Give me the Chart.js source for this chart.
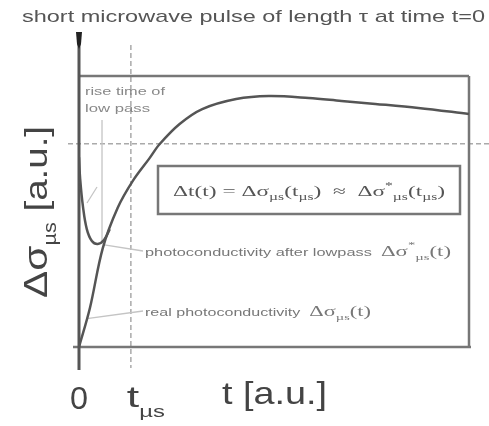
<!DOCTYPE html>
<html>
<head>
<meta charset="utf-8">
<script src="https://cdn.jsdelivr.net/npm/chart.js@4"></script>
<style>
  html, body { margin: 0; padding: 0; background: #fff; }
  #wrap { width: 489px; height: 426px; position: relative; }
</style>
</head>
<body>
<div id="wrap"><canvas id="chart"></canvas></div>
<script>
// time axis (a.u.) and signals
const realT      = [0, 0.28, 0.61, 0.99, 1.38, 1.81, 2.07, 2.58, 3.16, 4.03, 4.87, 5.89, 6.73, 7.60, 8.70, 10];
const realSigma  = [0, 1.44, 3.65, 5.13, 6.13, 6.97, 7.49, 8.23, 8.78, 9.15, 9.26, 9.19, 9.08, 8.97, 8.82, 8.60];
const lowT       = [0, 0.03, 0.10, 0.20, 0.33, 0.48, 0.64, 0.79];
const lowSigma   = [7.0, 6.2, 5.2, 4.35, 3.91, 3.80, 3.95, 4.35];

// reference marks
const tMus = 1.33;          // t_µs
const riseTime = 0.59;      // rise time of low pass
const levelAtTmus = 7.5;    // dashed level
const realLeader = [0.2, 1.05];
const lowLeader = [0.61, 3.78];

const toPts = (xs, ys) => xs.map((x, i) => ({ x: x, y: ys[i] }));

// draw a list of text pieces, squeezed/stretched to a target width
function drawRich(ctx, segs, x, y, width, align) {
  let total = 0;
  segs.forEach(s => { ctx.font = s.font; s.w = ctx.measureText(s.text).width; total += s.w; });
  const k = width ? width / total : 1;
  const w = total * k;
  let x0 = x;
  if (align === 'center') x0 = x - w / 2;
  if (align === 'right') x0 = x - w;
  ctx.save();
  ctx.translate(x0, y);
  ctx.scale(k, 1);
  ctx.textBaseline = 'alphabetic';
  ctx.textAlign = 'left';
  let cx = 0;
  segs.forEach(s => {
    ctx.font = s.font;
    ctx.fillText(s.text, cx, s.dy || 0);
    cx += s.w;
  });
  ctx.restore();
}

function line(ctx, x1, y1, x2, y2) {
  ctx.beginPath();
  ctx.moveTo(x1, y1);
  ctx.lineTo(x2, y2);
  ctx.stroke();
}

const sketchPlugin = {
  id: 'sketch',
  beforeDatasetsDraw(chart) {
    const { ctx, chartArea: a, scales: { x, y } } = chart;
    ctx.save();
    // dashed guides
    ctx.strokeStyle = '#aaa';
    ctx.lineWidth = 1.5;
    ctx.setLineDash([5, 3]);
    const yl = y.getPixelForValue(levelAtTmus);
    line(ctx, a.left - 11, yl, 489, yl);
    const xt = x.getPixelForValue(tMus);
    line(ctx, xt, 45, xt, a.bottom + 21);
    ctx.setLineDash([]);

    // rise time marker and leaders
    ctx.strokeStyle = '#c4c4c4';
    ctx.lineWidth = 1.3;
    const xr = x.getPixelForValue(riseTime);
    line(ctx, xr, 120, xr, y.getPixelForValue(3.8));
    line(ctx, 87, 203, 97, 187);
    line(ctx, x.getPixelForValue(lowLeader[0]), y.getPixelForValue(lowLeader[1]), 143, 251);
    line(ctx, x.getPixelForValue(realLeader[0]), y.getPixelForValue(realLeader[1]), 143, 311);

    // frame
    ctx.strokeStyle = '#777';
    ctx.lineWidth = 2.5;
    line(ctx, a.left, a.top, a.right, a.top);
    line(ctx, a.right, a.top, a.right, a.bottom);
    line(ctx, a.left - 6, a.bottom, a.right + 2, a.bottom);
    ctx.strokeStyle = '#555';
    ctx.lineWidth = 3;
    line(ctx, a.left, 38, a.left, a.bottom + 23);

    // pulse arrow
    ctx.fillStyle = '#222';
    ctx.beginPath();
    ctx.moveTo(a.left - 3, 32);
    ctx.lineTo(a.left + 3, 32);
    ctx.lineTo(a.left + 2, 44);
    ctx.lineTo(a.left, 49);
    ctx.lineTo(a.left - 2, 44);
    ctx.closePath();
    ctx.fill();

    // equation box
    ctx.strokeStyle = '#777';
    ctx.lineWidth = 2.5;
    ctx.strokeRect(158, 166, 302, 48);
    ctx.restore();
  },
  afterDraw(chart) {
    const { ctx, scales: { x } } = chart;
    ctx.save();
    const sans = 'Liberation Sans, Arial, sans-serif';
    const serif = 'Liberation Serif, Times New Roman, serif';

    // title
    ctx.fillStyle = '#555';
    drawRich(ctx, [{ text: 'short microwave pulse of length \u03c4 at time t=0', font: '17px ' + sans }], 22, 22, 463, 'left');

    // rise time label
    ctx.fillStyle = '#888';
    drawRich(ctx, [{ text: 'rise time of', font: '11px ' + sans }], 85, 95, 80, 'left');
    drawRich(ctx, [{ text: 'low pass', font: '11px ' + sans }], 85, 112, 65, 'left');

    // equation
    ctx.fillStyle = '#555';
    const f14 = '15px ' + serif, f9 = '10px ' + serif;
    drawRich(ctx, [
      { text: '\u0394t(t) = \u0394\u03c3', font: f14 },
      { text: '\u00b5s', font: f9, dy: 4 },
      { text: '(t', font: f14 },
      { text: '\u00b5s', font: f9, dy: 4 },
      { text: ')  \u2248  \u0394\u03c3', font: f14 },
      { text: '*', font: f9, dy: -7 },
      { text: '\u00b5s', font: f9, dy: 4 },
      { text: '(t', font: f14 },
      { text: '\u00b5s', font: f9, dy: 4 },
      { text: ')', font: f14 }
    ], 309, 196, 272, 'center');

    // curve labels
    ctx.fillStyle = '#777';
    drawRich(ctx, [
      { text: 'photoconductivity after lowpass  ', font: '10px ' + sans },
      { text: '\u0394\u03c3', font: '14px ' + serif },
      { text: '*', font: '9px ' + serif, dy: -8 },
      { text: '\u00b5s', font: '9px ' + serif, dy: 4 },
      { text: '(t)', font: '14px ' + serif }
    ], 145, 256, 306, 'left');
    drawRich(ctx, [
      { text: 'real photoconductivity  ', font: '10px ' + sans },
      { text: '\u0394\u03c3', font: '14px ' + serif },
      { text: '\u00b5s', font: '9px ' + serif, dy: 4 },
      { text: '(t)', font: '14px ' + serif }
    ], 145, 316, 226, 'left');

    // axis labels
    ctx.fillStyle = '#444';
    drawRich(ctx, [{ text: '0', font: '32px ' + sans }], x.getPixelForValue(0), 409, 18, 'center');
    drawRich(ctx, [
      { text: 't', font: '30px ' + sans },
      { text: '\u00b5s', font: '16px ' + sans, dy: 10 }
    ], x.getPixelForValue(tMus) - 4, 407, 38, 'left');
    drawRich(ctx, [{ text: 't [a.u.]', font: '32px ' + sans }], 222, 404, 105, 'left');

    ctx.translate(47, 212);
    ctx.rotate(-Math.PI / 2);
    drawRich(ctx, [
      { text: '\u0394\u03c3', font: '34px ' + sans },
      { text: '\u00b5s', font: '18px ' + sans, dy: 9 },
      { text: ' [a.u.]', font: '32px ' + sans }
    ], 0, 0, 172, 'center');
    ctx.restore();
  }
};

new Chart(document.getElementById('chart'), {
  type: 'line',
  data: {
    datasets: [
      {
        label: 'real photoconductivity',
        data: toPts(realT, realSigma),
        borderColor: '#555',
        borderWidth: 2.5,
        pointRadius: 0,
        tension: 0.35,
        fill: false
      },
      {
        label: 'photoconductivity after lowpass',
        data: toPts(lowT, lowSigma),
        borderColor: '#555',
        borderWidth: 2.5,
        pointRadius: 0,
        tension: 0.4,
        fill: false
      }
    ]
  },
  options: {
    responsive: true,
    maintainAspectRatio: false,
    animation: false,
    layout: { padding: { left: 79, right: 20, top: 76, bottom: 79 } },
    plugins: { legend: { display: false }, tooltip: { enabled: false } },
    scales: {
      x: { type: 'linear', min: 0, max: 10, display: false },
      y: { type: 'linear', min: 0, max: 10, display: false }
    }
  },
  plugins: [sketchPlugin]
});
</script>
</body>
</html>
